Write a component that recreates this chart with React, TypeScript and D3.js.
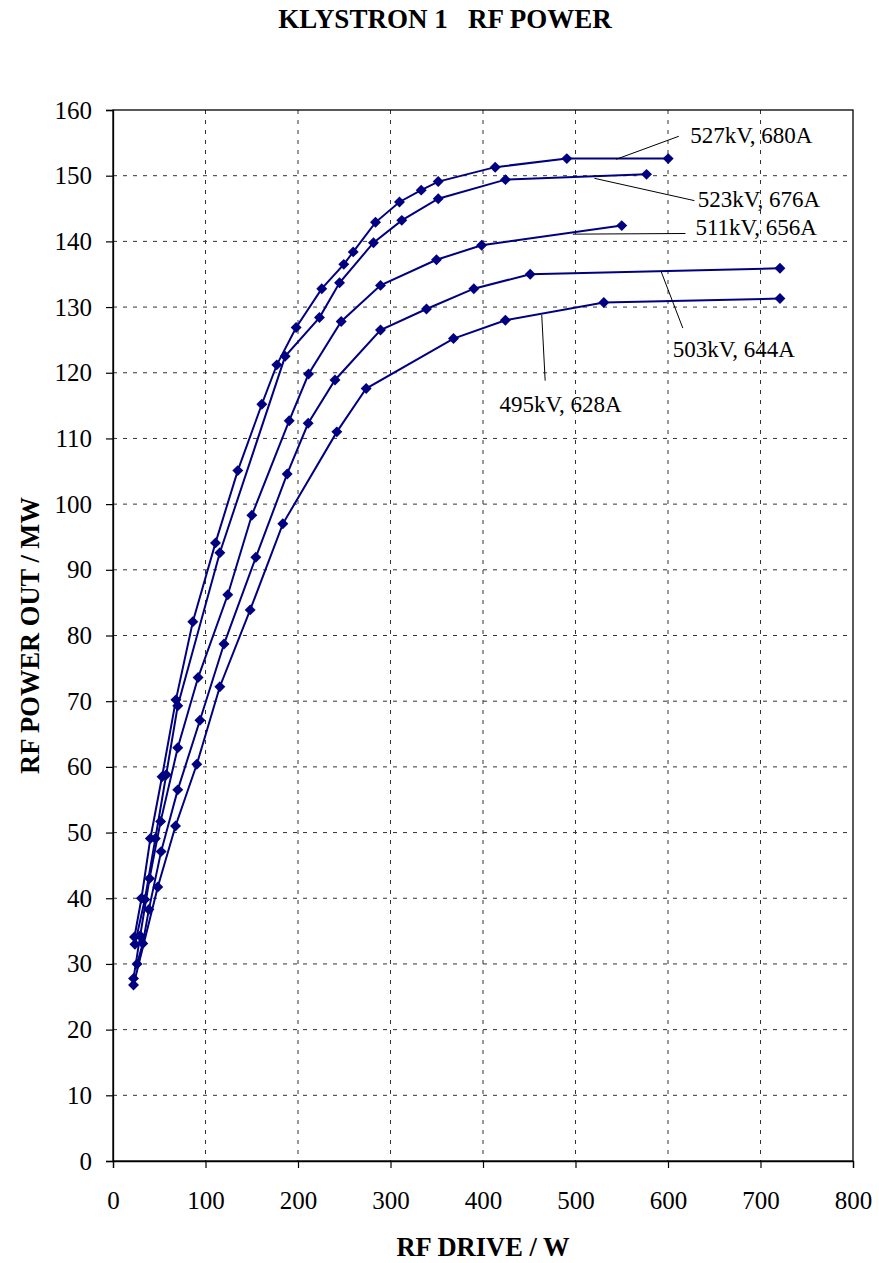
import React, { useEffect, useRef } from 'react';
import * as d3 from 'd3';

// chart text
const title = 'KLYSTRON 1   RF POWER';
const xTitle = 'RF DRIVE / W';
const yTitle = 'RF POWER OUT / MW';

const xTicks = [0, 100, 200, 300, 400, 500, 600, 700, 800];
const yTicks = [0, 10, 20, 30, 40, 50, 60, 70, 80, 90, 100, 110, 120, 130, 140, 150, 160];

// RF drive (W) / RF power out (MW), one pair per curve
const drive527 = [23.2, 30.8, 40.4, 53, 68, 86.3, 110.8, 134.9, 160.9, 177.1, 198, 225.7, 249.5, 259.7, 283.8, 309.7, 333.2, 351.6, 413.2, 490.6, 600.2];
const power527 = [34.1, 40.0, 49.1, 58.5, 70.2, 82.1, 94.1, 105.1, 115.2, 121.2, 126.9, 132.8, 136.5, 138.4, 142.9, 146.0, 147.8, 149.1, 151.3, 152.6, 152.6];

const drive523 = [23.7, 34.4, 45.8, 57.5, 70, 115.5, 186.1, 223.2, 244.9, 281.6, 312.2, 351.6, 424.3, 576.8];
const power523 = [33.0, 39.8, 49.1, 58.8, 69.3, 92.6, 122.5, 128.4, 133.7, 139.8, 143.2, 146.5, 149.4, 150.2];

const drive511 = [22.2, 29.4, 39.5, 51.5, 70, 92, 124.1, 150.1, 190.5, 211.4, 246.7, 289.2, 349.7, 398.5, 550];
const power511 = [27.8, 34.3, 43.0, 51.7, 62.9, 73.6, 86.2, 98.3, 112.7, 119.8, 127.8, 133.3, 137.2, 139.4, 142.4];

const drive503 = [26, 32.2, 38.8, 52, 70, 94, 120, 154.4, 188.3, 211, 240, 289.2, 338.9, 390.1, 451, 721];
const power503 = [30.0, 33.1, 38.3, 47.1, 56.5, 67.1, 78.7, 91.9, 104.6, 112.3, 118.9, 126.5, 129.7, 132.8, 135.0, 135.9];

const drive495 = [22.2, 48.4, 67.6, 90.6, 115.5, 148.3, 183.6, 242, 273.7, 368.1, 424.2, 530.6, 721];
const power495 = [26.8, 41.7, 51.0, 60.4, 72.2, 83.9, 97.0, 111.0, 117.6, 125.2, 128.0, 130.7, 131.3];

const curveLabels = ['527kV, 680A', '523kV, 676A', '511kV, 656A', '503kV, 644A', '495kV, 628A'];
// label anchor [W, MW] and leader line [from, to] in data units
const labelAt = [[624, 155.0], [632.2, 145.2], [629.7, 140.9], [605, 122.4], [417.8, 114.0]];
const leaders = [
  [[544.0, 152.5], [611.7, 156.0]],
  [[520.5, 149.6], [628.6, 146.2]],
  [[497.1, 141.1], [618.9, 141.2]],
  [[592.6, 135.4], [616.0, 126.8]],
  [[463.5, 128.8], [467.2, 118.8]],
];

const W = 879;
const H = 1263;
const font = '"Liberation Serif", "Times New Roman", serif';
const navy = '#000080';

export default function App() {
  const ref = useRef(null);

  useEffect(() => {
    const margin = { top: 110, left: 113, bottom: 102, right: 26 };
    const iwidth = W - margin.left - margin.right;
    const iheight = H - margin.top - margin.bottom;

    const svg = d3.select(ref.current);
    svg.selectAll('*').remove();
    svg.attr('width', W).attr('height', H);

    const x = d3.scaleLinear().domain([0, 800]).range([0, iwidth]);
    const y = d3.scaleLinear().domain([0, 160]).range([iheight, 0]);

    const g = svg.append('g').attr('transform', `translate(${margin.left},${margin.top})`);

    // dashed grid
    g.selectAll('.hgrid').data(yTicks.filter((t) => t > 0 && t < 160)).enter().append('line')
      .attr('x1', 0).attr('x2', iwidth)
      .attr('y1', (d) => y(d)).attr('y2', (d) => y(d))
      .attr('stroke', '#333').attr('stroke-width', 1).attr('stroke-dasharray', '4,6');
    g.selectAll('.vgrid').data(xTicks.filter((t) => t > 0 && t < 800)).enter().append('line')
      .attr('y1', 0).attr('y2', iheight)
      .attr('x1', (d) => x(d)).attr('x2', (d) => x(d))
      .attr('stroke', '#333').attr('stroke-width', 1).attr('stroke-dasharray', '4,6');

    // frame
    g.append('rect').attr('width', iwidth).attr('height', iheight)
      .attr('fill', 'none').attr('stroke', '#000').attr('stroke-width', 1.3);

    // axes
    const yAxis = g.append('g').call(d3.axisLeft(y).tickValues(yTicks).tickSize(7).tickPadding(14));
    const xAxis = g.append('g').attr('transform', `translate(0,${iheight})`)
      .call(d3.axisBottom(x).tickValues(xTicks).tickSize(7).tickPadding(23));
    [yAxis, xAxis].forEach((a) => {
      a.select('.domain').attr('stroke', '#000').attr('stroke-width', 1.3);
      a.selectAll('.tick line').attr('stroke', '#000').attr('stroke-width', 1.2);
      a.selectAll('.tick text').attr('fill', '#000').style('font-family', font).style('font-size', '25px');
    });

    // curves
    const curves = [
      [drive527, power527],
      [drive523, power523],
      [drive511, power511],
      [drive503, power503],
      [drive495, power495],
    ];
    const line = d3.line().x((d) => x(d[0])).y((d) => y(d[1]));
    const marker = d3.symbol(d3.symbolSquare, 60);

    curves.forEach(([dr, pw], i) => {
      const pts = dr.map((v, k) => [v, pw[k]]);
      g.append('path').datum(pts).attr('d', line)
        .attr('fill', 'none').attr('stroke', navy).attr('stroke-width', 2);
      g.selectAll(`.m${i}`).data(pts).enter().append('path')
        .attr('d', marker)
        .attr('transform', (d) => `translate(${x(d[0])},${y(d[1])}) rotate(45)`)
        .attr('fill', navy);
    });

    // leader lines and labels
    leaders.forEach((l, i) => {
      g.append('line')
        .attr('x1', x(l[0][0])).attr('y1', y(l[0][1]))
        .attr('x2', x(l[1][0])).attr('y2', y(l[1][1]))
        .attr('stroke', '#000').attr('stroke-width', 1);
      g.append('text')
        .attr('x', x(labelAt[i][0])).attr('y', y(labelAt[i][1]))
        .style('font-family', font).style('font-size', '23px')
        .attr('fill', '#000')
        .text(curveLabels[i]);
    });

    // titles
    svg.append('text').attr('x', 445).attr('y', 28).attr('text-anchor', 'middle')
      .style('font-family', font).style('font-size', '27px').style('font-weight', 'bold')
      .style('white-space', 'pre')
      .text(title);
    svg.append('text').attr('x', margin.left + iwidth / 2).attr('y', 1256).attr('text-anchor', 'middle')
      .style('font-family', font).style('font-size', '26.5px').style('font-weight', 'bold')
      .text(xTitle);
    svg.append('text')
      .attr('transform', `translate(39,${margin.top + iheight / 2}) rotate(-90)`)
      .attr('text-anchor', 'middle')
      .style('font-family', font).style('font-size', '26.5px').style('font-weight', 'bold')
      .text(yTitle);
  }, []);

  return (
    <div style={{ position: 'absolute', left: 0, top: 0, background: '#fff' }}>
      <svg ref={ref}></svg>
    </div>
  );
}
